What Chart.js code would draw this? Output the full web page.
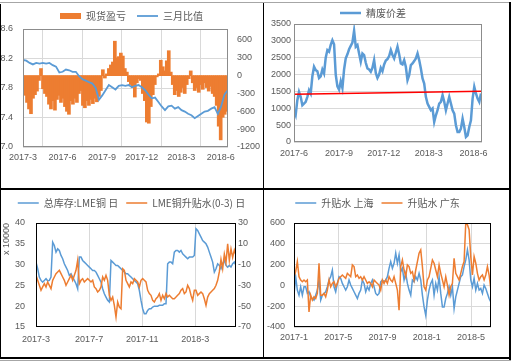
<!DOCTYPE html>
<html>
<head>
<meta charset="utf-8">
<script src="https://cdn.jsdelivr.net/npm/chart.js@4.4.1/dist/chart.umd.min.js"></script>
<style>
  body { margin: 0; background: #fff; }
  #page { position: relative; width: 513px; height: 362px; overflow: hidden; background: #fff; }
  #page canvas { position: absolute; }
  .rule { position: absolute; background: #000; }
</style>
</head>
<body>
<div id="page">
  <canvas id="spot" width="263" height="188" style="left:0;top:0"></canvas>
  <canvas id="scrap" width="246" height="188" style="left:264px;top:0"></canvas>
  <canvas id="lme" width="263" height="167" style="left:0;top:190px"></canvas>
  <canvas id="premium" width="246" height="167" style="left:264px;top:190px"></canvas>
  <div class="rule" style="left:0;top:2px;width:510px;height:1px;background:#a6a6a6"></div>
  <div class="rule" style="left:0;top:4px;width:1px;height:355px"></div>
  <div class="rule" style="left:509px;top:2px;width:2px;height:358px"></div>
  <div class="rule" style="left:263px;top:3px;width:1px;height:355px"></div>
  <div class="rule" style="left:0;top:188px;width:511px;height:2px"></div>
  <div class="rule" style="left:0;top:357px;width:511px;height:2px"></div>
  <div class="rule" style="left:0;top:360px;width:511px;height:1px;background:#a6a6a6"></div>
</div>
<script>
// top left: spot profit (bars, right axis) and 3-month ratio (line, left axis)
const spotLabels = ['2017-3', '2017-6', '2017-9', '2017-12', '2018-3', '2018-6'];
const spotTicks = [0, 3, 6, 9, 12, 15];
const ratioTicks = [7.0, 7.4, 7.8, 8.2, 8.6];
const profitTicks = [-1200, -900, -600, -300, 0, 300, 600];
const spotProfit = [
  -250, -330, -450, -560, -640, -380, -320, -260, -80, 120,
  -220, -300, -350, -480, -560, -420, -580, -400, -330, -450,
  -380, -520, -600, -650, -420, -480, -380, -450, -300, -250,
  -500, -540, -420, -500, -400, -470, -380, -440, -350, -250,
  100, -40, 30, 120, 180, 230, 580, 300, 320, 380,
  330, 120, 60, -100, -150, -200, -360, -120, -50, -80,
  -300, -420, -780, -800, -520, -320, -150, -20, 30, 260,
  150, 80, 250, 420, 60, -150, -320, -250, -350, -280,
  -200, -300, -150, -50, 80, -120, -250, -200, -280, -150,
  -230, -120, -200, -260, -180, -300, -350, -500, -850, -1080,
  -700, -650, -600
];
const ratio3m = [
  8.18, 8.17, 8.14, 8.12, 8.14, 8.13, 8.14, 8.13, 8.14, 8.11,
  8.09, 8.01, 8.02, 8.05, 8.04, 8.02, 8.02, 7.96, 7.92, 7.90,
  7.88, 7.86, 7.80, 7.64, 7.70, 7.77, 7.84, 7.81, 7.78, 7.83,
  7.84, 7.83, 7.84, 7.81, 7.83, 7.84, 7.81, 7.77, 7.71, 7.66,
  7.67, 7.61, 7.55, 7.50, 7.55, 7.56, 7.52, 7.54, 7.50, 7.48,
  7.45, 7.43, 7.39, 7.42, 7.45, 7.48, 7.49, 7.52, 7.54, 7.45,
  7.55, 7.71, 7.77
];

// top right: refined vs scrap spread
const scrapLabels = ['2017-6', '2017-9', '2017-12', '2018-3', '2018-6'];
const scrapTicks = [0, 3, 6, 9, 12];
const spreadTicks = [0, 500, 1000, 1500, 2000, 2500, 3000, 3500];
const scrapSpread = [
  942, 800, 1239, 1487, 1339, 1091, 1140, 1190, 1339, 1537,
  1437, 1950, 2231, 2132, 2100, 1900, 1950, 2150, 2033, 2500,
  2727, 2680, 2880, 3020, 2900, 2000, 1650, 1550, 1800, 1600,
  2150, 2480, 2600, 2750, 2850, 2950, 3300, 2826, 2875, 2627,
  2380, 2627, 2578, 2350, 2181, 2150, 2082, 2200, 2429, 2050,
  1900, 2000, 2200, 2100, 2300, 2420, 2460, 2550, 2727, 2580,
  2479, 2650, 2826, 2600, 2330, 2300, 2429, 2231, 1834, 1983,
  2280, 2330, 2400, 2480, 2627, 2429, 2181, 1884, 1735, 1339,
  1140, 1041, 942, 992, 595, 793, 942, 1140, 1190, 1388,
  1190, 942, 1140, 1339, 1140, 942, 843, 496, 297, 297,
  397, 694, 446, 149, 198, 446, 644, 1289, 1636, 1438,
  1289, 1190, 1438
];
const scrapTrend = [1420, 1505];

// bottom left: LME stock and LME premium
const lmeLabels = ['2017-3', '2017-7', '2017-11', '2018-3'];
const lmeTicks = [0, 4, 8, 12];
const stockTicks = [15, 20, 25, 30, 35, 40];
const lmePremTicks = [-70, -50, -30, -10, 10, 30];
const lmeStock = [
  30.6, 29.0, 27.0, 26.2, 25.8, 26.2, 26.6, 26.1, 26.2, 27.0,
  35.4, 34.6, 33.0, 33.8, 33.4, 32.2, 31.4, 30.2, 29.4, 28.6,
  27.4, 27.8, 27.0, 26.2, 25.4, 24.2, 31.8, 31.8, 31.0, 30.6,
  30.2, 29.8, 29.4, 29.0, 28.6, 28.6, 28.2, 27.4, 26.6, 25.8,
  24.2, 23.0, 22.2, 21.4, 21.0, 31.0, 30.6, 30.2, 29.8, 29.8,
  29.4, 29.0, 28.6, 28.2, 27.8, 27.8, 27.4, 27.0, 26.6, 26.2,
  25.8, 25.4, 23.8, 21.4, 19.4, 18.2, 18.2, 19.0, 19.4, 19.4,
  19.8, 20.0, 20.0, 20.0, 20.2, 20.2, 20.2, 20.6, 20.6, 30.2,
  30.6, 30.6, 30.2, 33.0, 33.4, 33.4, 33.0, 33.4, 32.6, 32.2,
  31.8, 31.4, 31.8, 31.8, 31.8, 32.2, 38.6, 38.2, 37.4, 36.6,
  35.8, 35.4, 35.0, 34.2, 33.0, 31.8, 30.6, 28.2, 29.0, 30.2,
  29.8, 29.0, 30.2, 31.0, 29.8, 29.4, 29.8, 29.4, 30.2, 30.6,
  29.8
];
const lmePremium = [
  -20.3, -25.1, -29.9, -34.7, -31.5, -28.3, -31.5, -26.7, -29.9, -33.1,
  -25.1, -21.9, -18.7, -17.1, -15.5, -18.7, -21.9, -25.1, -29.9, -26.7,
  -23.5, -20.3, -25.1, -20.3, -15.5, -5.9, -28.3, -25.1, -23.5, -26.7,
  -25.1, -23.5, -25.1, -26.7, -25.1, -31.5, -33.1, -36.3, -34.7, -31.5,
  -21.9, -25.1, -20.3, -25.1, -39.5, -44.4, -41.2, -49.2, -60.4, -46.0,
  -50.8, -52.4, -13.9, -15.5, -25.1, -28.3, -31.5, -26.7, -28.3, -23.5,
  -25.1, -26.7, -31.5, -25.1, -23.5, -25.1, -26.7, -34.7, -37.9, -39.5,
  -44.4, -46.0, -42.8, -41.2, -37.9, -44.4, -39.5, -42.8, -37.9, -41.2,
  -39.5, -41.2, -42.8, -42.8, -41.2, -39.5, -37.9, -34.7, -33.1, -37.9,
  -36.3, -29.9, -33.1, -39.5, -44.4, -34.7, -34.7, -39.5, -37.9, -36.3,
  -37.9, -42.8, -49.2, -41.2, -37.9, -36.3, -34.7, -33.1, -29.9, -25.1,
  -17, -5, -14, 0, -8, 10, -6, 5, -3, 4,
  -1
];

// bottom right: Shanghai and Guangdong premiums
const premLabels = ['2017-1', '2017-5', '2017-9', '2018-1', '2018-5'];
const premTicks = [0, 4, 8, 12, 16];
const premValueTicks = [-400, -200, 0, 200, 400, 600];
const premShanghai = [
  -94, 84, -45, -94, -13, -94, -13, -13, -77, -61,
  -110, -126, -142, -94, -45, 52, -142, -94, -77, -61,
  -13, 52, 84, 148, -13, -61, 19, 84, 68, 19,
  -13, -45, -13, 52, 3, -29, -61, -94, -126, -77,
  -45, 52, 19, -61, -13, -45, 19, 52, -13, -77,
  -94, -77, 35, 52, 35, 52, 84, 164, 229, 164,
  213, 310, 213, 294, 132, 164, 52, 116, 19, -45,
  -94, 52, 35, 84, 52, 116, 52, -94, -207, -287,
  -142, -45, 19, 52, -94, 19, -45, 84, -77, -207,
  -207, -126, -77, -13, -94, -13, -223, -110, -45, 19,
  84, 100, 181, 245, 342, 245, 52, -13, 68, -45,
  19, -45, -29, -77, 3, -29, -77, -126, -158
];
const premGuangdong = [
  84, 132, 229, 84, 52, 35, 52, 35, 52, -255,
  -94, -142, -110, -126, -77, 213, -94, -94, -77, -110,
  -45, 52, -13, 19, 35, -13, 19, 68, 84, 100,
  84, 68, 116, 100, 84, 197, 181, 84, 100, 68,
  84, 52, 84, 52, 19, 35, 19, -13, 52, 35,
  19, 3, -45, 52, 19, 52, 19, 84, 52, 35,
  84, 19, -45, -239, 181, 245, 148, 84, 197, 181,
  116, 132, 52, 148, 229, 310, 342, 181, -13, -45,
  52, 84, 164, 245, 213, 148, 84, 197, 116, 52,
  -13, 84, 3, -94, -13, 19, 261, 116, 84, 52,
  116, 181, 229, 600, 584, 535, 277, 100, 277, 213,
  116, 52, 84, 100, 52, 100, 181, 100, -29
];

const GRID = '#d9d9d9';
const TEXT = '#595959';
const BLUE = '#5B9BD5';
const ORANGE = '#ED7D31';
const tickFont = { family: "'Liberation Sans', Arial, sans-serif", size: 9 };
const legendFont = { family: "'Noto Sans CJK SC', 'Noto Sans', sans-serif", size: 10 };

// x positions in months from the first tick, evenly spaced between first and last
function spread(values, first, last) {
  const step = (last - first) / (values.length - 1);
  return values.map((v, i) => ({ x: first + i * step, y: v }));
}

function dateAxis(max, ticks, labels, pad, height, grid) {
  return {
    type: 'linear', min: 0, max: max, offset: false,
    afterBuildTicks: s => { s.ticks = ticks.map(v => ({ value: v })); },
    afterFit: s => { s.height = height; },
    ticks: { autoSkip: false, maxRotation: 0, padding: pad, color: TEXT, font: tickFont,
             callback: v => labels[ticks.indexOf(v)] },
    grid: { display: grid, color: GRID, drawTicks: false },
    border: { display: false }
  };
}

function valueAxis(pos, min, max, ticks, pad, width, grid, fmt) {
  return {
    type: 'linear', position: pos, min: min, max: max,
    afterBuildTicks: s => { s.ticks = ticks.map(v => ({ value: v })); },
    afterFit: s => { s.width = width; },
    ticks: { padding: pad, color: TEXT, font: tickFont, callback: fmt || (v => String(v)) },
    grid: { display: grid, color: GRID, drawTicks: false },
    border: { display: false }
  };
}

function legendOpts(pad) {
  return {
    position: 'top',
    labels: {
      usePointStyle: true, pointStyleWidth: 21, boxHeight: 6, padding: pad,
      color: TEXT, font: legendFont,
      sort: (a, b) => a.datasetIndex - b.datasetIndex,
      filter: item => item.text !== ''
    }
  };
}

// fixes the legend block height so the plot starts where the picture has it
const legendHeight = {
  id: 'legendHeight',
  afterInit(chart, args, opts) {
    const lg = chart.legend;
    const fit = lg.fit;
    lg.fit = function () { fit.call(this); this.height = opts.h; };
  }
};

const plotFrame = {
  id: 'plotFrame',
  afterDatasetsDraw(chart, args, opts) {
    const a = chart.chartArea, c = chart.ctx;
    c.save();
    c.strokeStyle = opts.color;
    c.lineWidth = 1;
    c.strokeRect(a.left + 0.5, a.top + 0.5, a.right - a.left - 1, a.bottom - a.top - 1);
    c.restore();
  }
};

const base = { responsive: false, animation: false, events: [] };

new Chart(document.getElementById('spot'), {
  type: 'bar',
  data: {
    datasets: [
      { type: 'bar', label: '现货盈亏', data: spread(spotProfit, 0, 15.45), yAxisID: 'y2',
        backgroundColor: ORANGE, borderWidth: 0, barThickness: 3, pointStyle: 'rect' },
      { type: 'line', label: '三月比值', data: spread(ratio3m, 0, 15.53), yAxisID: 'y',
        borderColor: BLUE, backgroundColor: BLUE, borderWidth: 1.8, pointRadius: 0, pointStyle: 'line', order: -1 }
    ]
  },
  options: {
    ...base,
    layout: { padding: 0 },
    plugins: { legend: legendOpts(11), legendHeight: { h: 29 }, plotFrame: { color: '#8c8c8c' } },
    scales: {
      x: dateAxis(15.55, spotTicks, spotLabels, 5, 41, true),
      y: valueAxis('left', 7.0, 8.6, ratioTicks, 10, 23, true, v => v.toFixed(1)),
      y2: valueAxis('right', -1200, 785, profitTicks, 9, 35, false)
    }
  },
  plugins: [legendHeight, plotFrame]
});

new Chart(document.getElementById('scrap'), {
  type: 'line',
  data: {
    datasets: [
      { label: '精废价差', data: spread(scrapSpread, 0, 12.49), borderColor: BLUE, backgroundColor: BLUE,
        borderWidth: 2.5, pointRadius: 0, pointStyle: 'line' },
      { label: '', data: spread(scrapTrend, 0, 12.56), borderColor: '#FF0000', borderWidth: 1.5,
        pointRadius: 0, order: -1 }
    ]
  },
  options: {
    ...base,
    layout: { padding: { right: 28 } },
    plugins: { legend: legendOpts(8), legendHeight: { h: 24 }, plotFrame: { color: '#8c8c8c' } },
    scales: {
      x: dateAxis(12.56, scrapTicks, scrapLabels, 6, 46, false),
      y: valueAxis('left', 0, 3500, spreadTicks, 3, 30, true)
    }
  },
  plugins: [legendHeight, plotFrame]
});

const stockAxis = valueAxis('left', 15, 40, stockTicks, 11, 36, false);
stockAxis.title = { display: true, text: 'x 10000', align: 'end', color: TEXT,
                    font: { family: tickFont.family, size: 9 }, padding: { top: 1, bottom: 0 } };

new Chart(document.getElementById('lme'), {
  type: 'line',
  data: {
    datasets: [
      { label: '总库存:LME铜 日', data: spread(lmeStock, 0, 15.06), yAxisID: 'y',
        borderColor: BLUE, backgroundColor: BLUE, borderWidth: 1.5, pointRadius: 0, pointStyle: 'line' },
      { label: 'LME铜升贴水(0-3) 日', data: spread(lmePremium, 0, 15.06), yAxisID: 'y2',
        borderColor: ORANGE, backgroundColor: ORANGE, borderWidth: 1.5, pointRadius: 0, pointStyle: 'line', order: -1 }
    ]
  },
  options: {
    ...base,
    layout: { padding: 0 },
    plugins: { legend: legendOpts(8), legendHeight: { h: 33 }, plotFrame: { color: '#000' } },
    scales: {
      x: dateAxis(15.06, lmeTicks, lmeLabels, 7, 30, true),
      y: stockAxis,
      y2: valueAxis('right', -70, 30, lmePremTicks, 2, 27, false)
    }
  },
  plugins: [legendHeight, plotFrame]
});

new Chart(document.getElementById('premium'), {
  type: 'line',
  data: {
    datasets: [
      { label: '升贴水 上海', data: spread(premShanghai, 0, 17.78), borderColor: BLUE, backgroundColor: BLUE,
        borderWidth: 1.5, pointRadius: 0, pointStyle: 'line' },
      { label: '升贴水 广东', data: spread(premGuangdong, 0, 17.78), borderColor: ORANGE, backgroundColor: ORANGE,
        borderWidth: 1.5, pointRadius: 0, pointStyle: 'line', order: -1 }
    ]
  },
  options: {
    ...base,
    layout: { padding: { right: 19 } },
    plugins: { legend: legendOpts(8), legendHeight: { h: 33 }, plotFrame: { color: '#000' } },
    scales: {
      x: dateAxis(17.8, premTicks, premLabels, 5, 30, true),
      y: valueAxis('left', -400, 600, premValueTicks, 9, 30, true)
    }
  },
  plugins: [legendHeight, plotFrame]
});
</script>
</body>
</html>
